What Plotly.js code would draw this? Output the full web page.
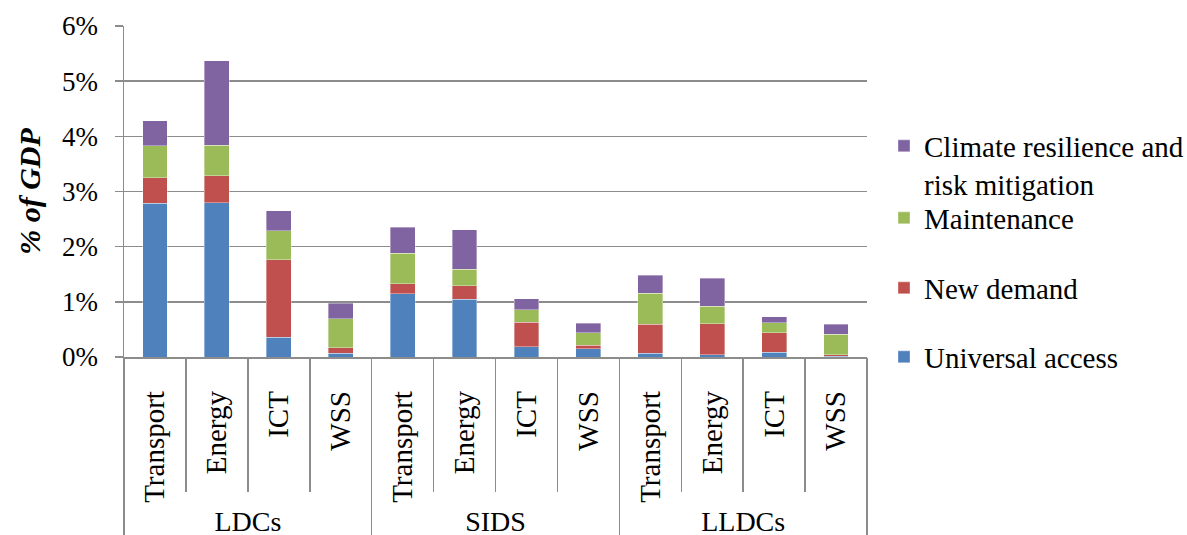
<!DOCTYPE html>
<html><head><meta charset="utf-8">
<script src="https://cdn.plot.ly/plotly-3.0.1.min.js"></script>
<style>
html,body{margin:0;padding:0;background:#fff}
#chart{width:1187px;height:535px}
</style>
</head><body><div id="chart"></div>
<script>
const groups = ['LDCs','LDCs','LDCs','LDCs','SIDS','SIDS','SIDS','SIDS','LLDCs','LLDCs','LLDCs','LLDCs'];
const sectors = ['Transport','Energy','ICT','WSS','Transport','Energy','ICT','WSS','Transport','Energy','ICT','WSS'];
const groupNames = ['LDCs','SIDS','LLDCs'];
const universalAccess = [2.79,2.80,0.36,0.07, 1.15,1.05,0.19,0.15, 0.07,0.04,0.09,0.01];
const newDemand       = [0.46,0.49,1.40,0.10, 0.18,0.24,0.44,0.06, 0.52,0.56,0.35,0.03];
const maintenance     = [0.58,0.55,0.53,0.52, 0.55,0.30,0.23,0.23, 0.57,0.32,0.18,0.37];
const climate         = [0.45,1.53,0.36,0.28, 0.47,0.72,0.20,0.17, 0.32,0.51,0.11,0.18];
const seriesNames = ['Universal access','New demand','Maintenance','Climate resilience and<br>risk mitigation'];
const seriesColors = ['#4F81BD','#C0504D','#9BBB59','#8064A2'];
const yTicks = [0,1,2,3,4,5,6];

const GRID = '#8c8c8c';
const FAM = '"Liberation Serif", "Times New Roman", serif';
const nCat = sectors.length;
const perGroup = nCat / groupNames.length;
const vals = [universalAccess, newDemand, maintenance, climate];
const legendOf = ['legend4','legend3','legend2','legend'];
const traces = vals.map((v,i)=>({
  type:'bar', x:[groups, sectors], y:v, name:seriesNames[i],
  marker:{color:seriesColors[i], line:{width:0.6,color:'rgba(255,255,255,0.6)'}},
  legend:legendOf[i], hoverinfo:'y'
}));
const catIdx = sectors.map((_, i) => i);
const groupCenters = groupNames.map((_, g) => g*perGroup + (perGroup-1)/2);
const f = (size) => ({family:FAM, size:size, color:'#000'});

const lgBase = {xref:'container', x:884/1187, xanchor:'left', yref:'container', yanchor:'middle',
                bgcolor:'rgba(0,0,0,0)', itemwidth:30, valign:'top', font:f(29)};
const layout = {
  width:1187, height:535,
  margin:{l:124, r:320, t:26, b:178},
  paper_bgcolor:'#fff', plot_bgcolor:'#fff',
  barmode:'stack', bargap:0.6,
  font:f(28),
  showlegend:true,
  xaxis:{type:'multicategory', showticklabels:false, ticks:'', showgrid:false, showline:false, showdividers:false},
  xaxis2:{
    overlaying:'x', anchor:'y', side:'bottom', range:[-0.5, nCat-0.5],
    tickvals:catIdx, ticktext:sectors, tickangle:-90, ticks:'',
    tickfont:f(29), ticklabelstandoff:21,
    minor:{tick0:-0.5, dtick:1, ticks:'outside', ticklen:133, tickcolor:GRID, tickwidth:1.5, showgrid:false},
    showgrid:false, zeroline:false, showline:true, linecolor:GRID, linewidth:1.5
  },
  xaxis3:{
    overlaying:'x', anchor:'y', side:'bottom', range:[-0.5, nCat-0.5],
    tickvals:groupCenters, ticktext:groupNames, ticks:'',
    tickfont:f(28), ticklabelstandoff:145,
    minor:{tick0:-0.5, dtick:perGroup, ticks:'outside', ticklen:178, tickcolor:GRID, tickwidth:1.5, showgrid:false},
    showgrid:false, zeroline:false, showline:false
  },
  yaxis:{
    range:[0,6], tickvals:yTicks, ticktext:yTicks.map(v=>v+'%'),
    showgrid:true, gridcolor:GRID, gridwidth:1.5, zeroline:false,
    showline:true, linecolor:GRID, linewidth:1.5,
    ticks:'outside', ticklen:8, tickcolor:GRID, tickwidth:1.5,
    tickfont:f(27), ticklabelstandoff:11,
    title:{text:'<b><i>% of GDP</i></b>', font:f(30), standoff:12}
  },
  legend: Object.assign({}, lgBase, {y:1-165/535}),
  legend2:Object.assign({}, lgBase, {y:1-218/535}),
  legend3:Object.assign({}, lgBase, {y:1-288/535}),
  legend4:Object.assign({}, lgBase, {y:1-357/535})
};
traces.push({type:'scatter', x:[-0.5, nCat-0.5], y:[0,0], xaxis:'x2', yaxis:'y', mode:'markers',
  marker:{opacity:0}, showlegend:false, hoverinfo:'skip'});
traces.push({type:'scatter', x:[-0.5, nCat-0.5], y:[0,0], xaxis:'x3', yaxis:'y', mode:'markers',
  marker:{opacity:0}, showlegend:false, hoverinfo:'skip'});
Plotly.newPlot('chart', traces, layout, {displayModeBar:false, staticPlot:true});
</script></body></html>
